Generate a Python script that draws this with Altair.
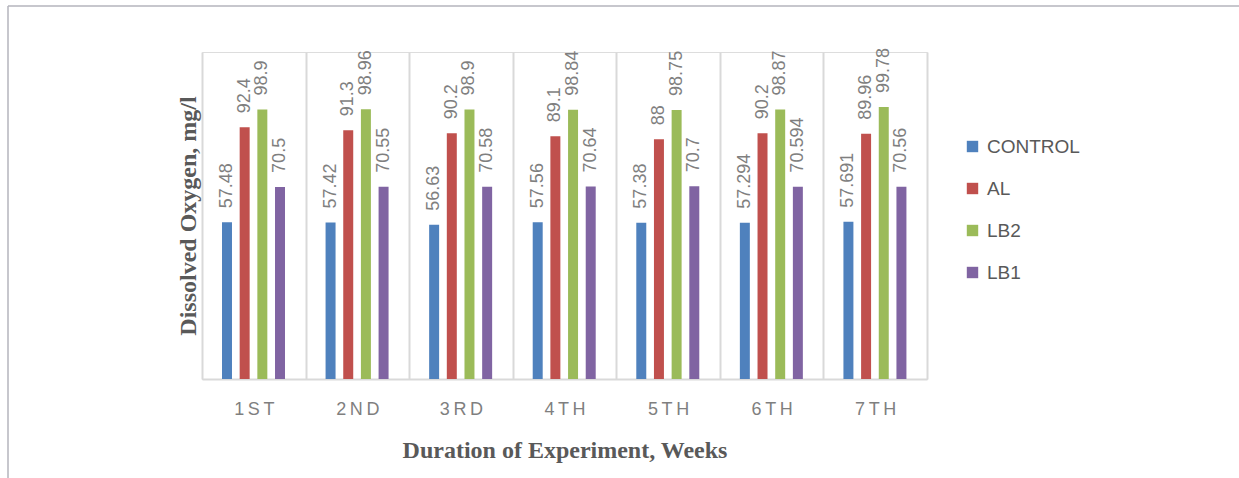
import altair as alt
import pandas as pd

# Weekly dissolved oxygen readings (mg/l) for each treatment
weeks = ["1ST", "2ND", "3RD", "4TH", "5TH", "6TH", "7TH"]
series = ["CONTROL", "AL", "LB2", "LB1"]
control = [57.48, 57.42, 56.63, 57.56, 57.38, 57.294, 57.691]
al = [92.4, 91.3, 90.2, 89.1, 88, 90.2, 89.96]
lb2 = [98.9, 98.96, 98.9, 98.84, 98.75, 98.87, 99.78]
lb1 = [70.5, 70.55, 70.58, 70.64, 70.7, 70.594, 70.56]
colors = ["#4F81BD", "#C0504D", "#9BBB59", "#8064A2"]

rows = []
for name, vals in zip(series, [control, al, lb2, lb1]):
    for wk, v in zip(weeks, vals):
        rows.append({"week": wk, "series": name, "value": v})
df = pd.DataFrame(rows)

W, H = 725, 327
PAD = {"left": 202, "top": 52, "right": 312, "bottom": 99}

x_enc = alt.X(
    "week:N",
    sort=weeks,
    scale=alt.Scale(paddingInner=0, paddingOuter=0),
    axis=alt.Axis(
        title="Duration of Experiment, Weeks",
        titleFont="Liberation Serif",
        titleFontWeight="bold",
        titleFontSize=24,
        titleColor="#595959",
        titleBaseline="alphabetic",
        titleY=78,
        labelFont="Liberation Sans",
        labelFontSize=18,
        labelColor="#7f7f7f",
        labelAngle=0,
        labelPadding=21,
        labelExpr="join(split(datum.label, ''), '\u2009')",
        ticks=False,
        grid=True,
        gridColor="#d9d9d9",
        gridWidth=2,
        tickBand="extent",
        domainColor="#d9d9d9",
        domainWidth=2,
    ),
)
# the four bars of a week sit in the middle of each week's band
xoff_scale = alt.Scale(range=[20, 83], paddingInner=0.435, paddingOuter=0)
xoff_enc = alt.XOffset("series:N", sort=series, scale=xoff_scale)
y_enc = alt.Y(
    "value:Q",
    scale=alt.Scale(domain=[0, 120], nice=False),
    axis=alt.Axis(
        title="Dissolved Oxygen, mg/l",
        titleFont="Liberation Serif",
        titleFontWeight="bold",
        titleFontSize=24,
        titleColor="#595959",
        titleAngle=270,
        titleBaseline="alphabetic",
        titleX=-7,
        titleY=H / 2,
        labels=False,
        ticks=False,
        domain=False,
        grid=False,
    ),
)

base = alt.Chart(df)

bars = base.mark_bar().encode(
    x=x_enc,
    xOffset=xoff_enc,
    y=y_enc,
    color=alt.Color(
        "series:N",
        sort=series,
        scale=alt.Scale(domain=series, range=colors),
        legend=alt.Legend(
            title=None,
            orient="none",
            legendX=761,
            legendY=85,
            symbolType="square",
            symbolSize=130,
            symbolStrokeWidth=0,
            labelFont="Liberation Sans",
            labelFontSize=19,
            labelColor="#595959",
            labelOffset=5,
            rowPadding=22,
            padding=0,
        ),
    ),
)

labels = base.mark_text(
    angle=270,
    align="left",
    baseline="middle",
    dx=14,
    font="Liberation Sans",
    fontSize=18,
    color="#7f7f7f",
).encode(
    x=alt.X("week:N", sort=weeks),
    xOffset=alt.XOffset("series:N", sort=series),
    y=alt.Y("value:Q"),
    text=alt.Text("value:Q"),
)

# outer frame lines of the chart area
frame = alt.Data(values=[{}])
left_edge = alt.Chart(frame).mark_rule(color="#b4b4bc", strokeWidth=1.5).encode(
    x=alt.value(-194), y=alt.value(-46), y2=alt.value(H + PAD["bottom"])
)
top_edge = alt.Chart(frame).mark_rule(color="#b4b4bc", strokeWidth=1.5).encode(
    y=alt.value(-46), x=alt.value(-194), x2=alt.value(W + PAD["right"])
)

chart = (
    alt.layer(bars, labels, left_edge, top_edge)
    .properties(width=W, height=H, padding=PAD, autosize=alt.AutoSizeParams(type="none"))
    .configure_view(stroke=None)
    .configure(background="white")
)

chart.save("out.html", embed_options={"renderer": "svg", "actions": False})
